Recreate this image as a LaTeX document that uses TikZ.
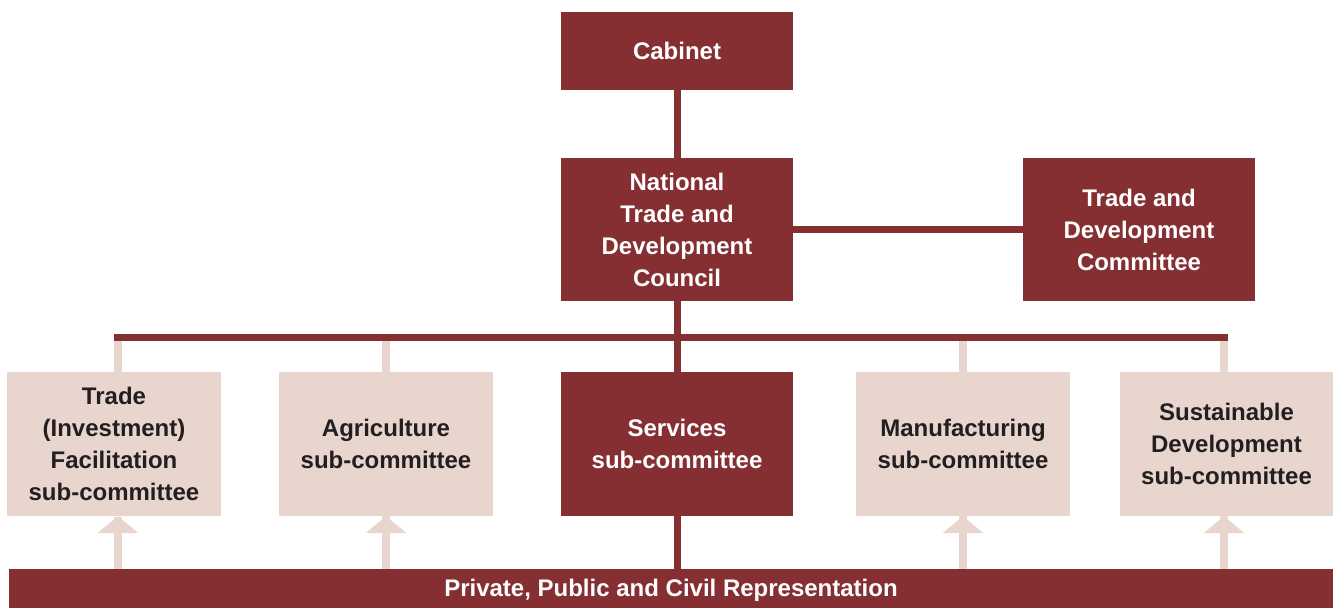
\documentclass[tikz,border=0pt]{standalone}
\usepackage{fontspec}
\setmainfont{Liberation Sans}
\definecolor{darkred}{HTML}{862F33}
\definecolor{lightbox}{HTML}{E8D5CE}
\definecolor{darktext}{HTML}{231F20}
\begin{document}
\begin{tikzpicture}[x=1pt,y=-1pt,
  base/.style={inner sep=0pt, align=center, font=\fontsize{24}{32}\selectfont\bfseries},
  darkbox/.style={base, fill=darkred, text=white},
  lightbx/.style={base, fill=lightbox, text=darktext},
  darkline/.style={draw=darkred, line width=7pt},
  lightline/.style={draw=lightbox, line width=8pt},
  headtri/.style={fill=lightbox}]
\useasboundingbox (0,0) rectangle (1333,608);
% top level
\node[darkbox, minimum width=232pt, minimum height=78pt] (cab) at (677,51) {Cabinet};
\node[darkbox, minimum width=232pt, minimum height=143pt] (ntdc) at (677,229.5) {National\\Trade and\\Development\\Council};
\node[darkbox, minimum width=232pt, minimum height=143pt] (tdc) at (1139,229.5) {Trade and\\Development\\Committee};
% sub-committees
\node[lightbx, minimum width=214pt, minimum height=144pt] (b1) at (114,444) {Trade\\(Investment)\\Facilitation\\sub-committee};
\node[lightbx, minimum width=214pt, minimum height=144pt] (b2) at (386,444) {Agriculture\\sub-committee};
\node[darkbox, minimum width=232pt, minimum height=144pt] (svc) at (677,444) {Services\\sub-committee};
\node[lightbx, minimum width=214pt, minimum height=144pt] (b4) at (963,444) {Manufacturing\\sub-committee};
\node[lightbx, minimum width=213pt, minimum height=144pt] (b5) at (1226.5,444) {Sustainable\\Development\\sub-committee};
% bottom bar
\node[darkbox, minimum width=1324pt, minimum height=39pt, text height=16pt, text depth=0pt] (bar) at (671,588.5) {Private, Public and Civil Representation};
% bus coordinates
\coordinate (busL) at (118,337);
\coordinate (busR) at (1224,337);
% light stubs
\draw[lightline] (b1.north -| busL) -- (busL);
\draw[lightline] (b2.north) -- (b2.north |- busL);
\draw[lightline] (b4.north) -- (b4.north |- busL);
\draw[lightline] (b5.north -| busR) -- (busR);
% dark connectors
\draw[darkline] (cab.south) -- (ntdc.north);
\draw[darkline] (ntdc.east) -- (tdc.west);
\draw[darkline] ([xshift=-4pt]busL) -- ([xshift=3.5pt]busR);
\draw[darkline] (ntdc.south) -- (svc.north);
\draw[darkline] (svc.south) -- (svc.south |- bar.north);
% up arrows: shafts
\draw[lightline] (bar.north -| busL) -- ([yshift=-1pt]b1.south -| busL);
\draw[lightline] (b2.south |- bar.north) -- (b2.south);
\draw[lightline] (b4.south |- bar.north) -- (b4.south);
\draw[lightline] (bar.north -| busR) -- (b5.south -| busR);
% up arrows: heads
\fill[headtri] (b1.south -| busL) -- ++(-20.5,17) -- ++(41,0) -- cycle;
\fill[headtri] (b2.south) -- ++(-20.5,17) -- ++(41,0) -- cycle;
\fill[headtri] (b4.south) -- ++(-20.5,17) -- ++(41,0) -- cycle;
\fill[headtri] (b5.south -| busR) -- ++(-20.5,17) -- ++(41,0) -- cycle;
\end{tikzpicture}
\end{document}
